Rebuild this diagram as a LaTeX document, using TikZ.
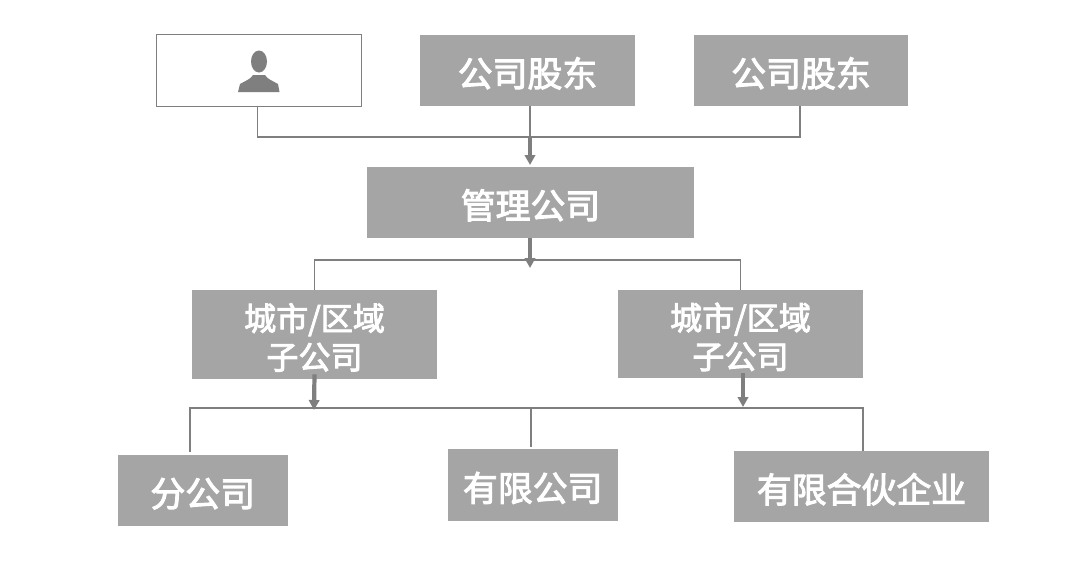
\documentclass[tikz,border=0pt]{standalone}
\usepackage{fontspec}
\setmainfont[FakeBold=2.8]{Noto Sans CJK SC}
\usetikzlibrary{arrows.meta, calc}

\definecolor{boxgray}{HTML}{A5A5A5}
\definecolor{linegray}{HTML}{7F7F7F}

\begin{document}
\begin{tikzpicture}[
    x=0.025cm, y=-0.025cm,
    orgbox/.style   ={fill=boxgray, text=white, inner sep=0pt, align=center, font=\fontsize{24.8}{27}\selectfont,
                      execute at begin node={\rule{0pt}{25pt}}},
    citybox/.style  ={fill=boxgray, text=white, inner sep=0pt, align=center, font=\fontsize{22.8}{27.5}\selectfont,
                      text height=49.2pt, text depth=0pt},
    personbox/.style={draw=linegray, line width=1.2pt, fill=white, inner sep=0pt},
    busline/.style  ={draw=linegray, line width=1.2pt},
    flowvec/.style  ={-{Triangle[length=2.5mm, width=2.6mm]}, draw=linegray, fill=linegray, line width=3pt}
]
\useasboundingbox (0,0) rectangle (1080,561);

% ---------- shareholders ----------
\node[personbox, minimum width=5.125cm, minimum height=1.8cm] (person) at (259,70.5) {};
\node[orgbox, minimum width=5.375cm, minimum height=1.775cm] (holderA) at (527.5,70.5) {公司股东};
\node[orgbox, minimum width=5.35cm, minimum height=1.775cm] (holderB) at (801,70.5) {公司股东};

% ---------- person icon ----------
\fill[linegray] (259,61.5) ellipse (8 and 11);
\fill[linegray] (238,92) -- (240,84) .. controls (245,81) and (251,79) .. (253,75)
    -- (265,75) .. controls (267,79) and (273,81) .. (278,84) -- (279.5,92) -- cycle;

% ---------- managing company and city companies ----------
\node[orgbox, minimum width=8.175cm, minimum height=1.775cm] (manager) at (530.5,202.5) {管理公司};
\node[citybox, minimum width=6.125cm, minimum height=2.225cm] (cityA) at (314.5,334.5) {城市/区域\\子公司};
\node[citybox, minimum width=6.125cm, minimum height=2.2cm] (cityB) at (740.5,334) {城市/区域\\子公司};

% ---------- lower level ----------
\node[orgbox, minimum width=4.24cm, minimum height=1.775cm] (branch) at (202.75,490.5) {分公司};
\node[orgbox, minimum width=4.24cm, minimum height=1.8cm] (limited) at (532.75,485) {有限公司};
\node[orgbox, minimum width=6.375cm, minimum height=1.775cm] (partner) at (861.5,486.5) {有限合伙企业};

% ---------- key points ----------
\coordinate (topbus)  at (530,137);
\coordinate (toptip)  at (530,165);
\coordinate (midtip)  at (530,268);
\coordinate (midbus)  at (530,260);
\coordinate (lowbus)  at (531,408);
\coordinate (tipA)    at (314,410);
\coordinate (tipB)    at (743,407);
\coordinate (dropL)   at (190,452);
\coordinate (dropM)   at (531,447);
\coordinate (dropR)   at (863,451);

% ---------- shareholders to manager ----------
\draw[busline] ($(person.south)+(-1.5,0)$) |- (topbus) -| ($(holderB.south)+(-1,0)$);
\draw[busline] (holderA.south -| topbus) -- (topbus);
\draw[flowvec] (topbus) -- (toptip);

% ---------- manager to city companies ----------
\draw[busline] (cityA.north) |- (midbus) -| (cityB.north);
\draw[flowvec] (manager.south -| midtip) -- (midtip);

% ---------- city companies to lower level ----------
\draw[busline] (dropL) |- (lowbus) -| (dropR);
\draw[busline] (lowbus) -- (dropM);
\draw[flowvec] ($(cityA.south)+(0,-5)$) -- (tipA);
\draw[flowvec] ($(cityB.south -| tipB)+(0,-5)$) -- (tipB);

\end{tikzpicture}
\end{document}
